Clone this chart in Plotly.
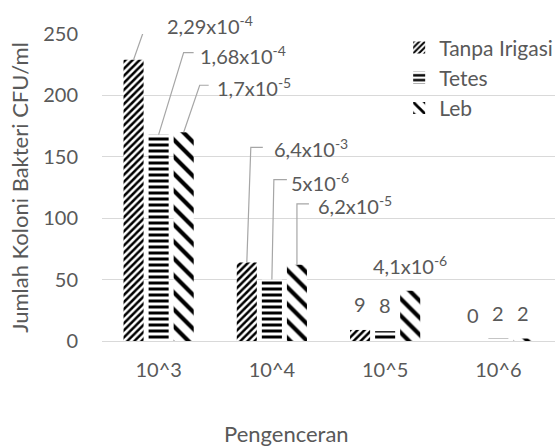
import plotly.graph_objects as go

# ---- data ----
categories = ["10^3", "10^4", "10^5", "10^6"]
series_names = ["Tanpa Irigasi", "Tetes", "Leb"]
tanpa_irigasi = [229, 64, 9, 0]
tetes = [168, 50, 8, 2]
leb = [170, 62, 41, 2]
tanpa_labels = ["2,29x10<sup>-4</sup>", "6,4x10<sup>-3</sup>", "9", "0"]
tetes_labels = ["1,68x10<sup>-4</sup>", "5x10<sup>-6</sup>", "8", "2"]
leb_labels = ["1,7x10<sup>-5</sup>", "6,2x10<sup>-5</sup>", "4,1x10<sup>-6</sup>", "2"]
y_ticks = [0, 50, 100, 150, 200, 250]
x_title = "Pengenceran"
y_title = "Jumlah Koloni Bakteri CFU/ml"

# ---- styling / layout ----
TXT = "#595959"
FONT = "Lato"
FS_TICK = 20
FS_LABEL = 20
FS_TITLE = 22
FS_LEGEND = 21
GRID = "#d9d9d9"
LEADER = "#a6a6a6"
BARGAP = 0.336
GROUPGAP = 0.2

patterns = [
    dict(shape="/", size=5, solidity=0.5, fgcolor="black", bgcolor="white", fillmode="replace"),
    dict(shape="-", size=6, solidity=0.5, fgcolor="black", bgcolor="white", fillmode="replace"),
    dict(shape="\\", size=12, solidity=0.35, fgcolor="black", bgcolor="white", fillmode="replace"),
]

# label placement (pixel offsets from bar top): None -> centered label above bar
# (elbow_dx, elbow_dy, end_dx, label_dx, label_dy)
leaders = [
    [(13, 37, 23, 31, 35), (4, 115, 16, 25, 114), None, None],
    [(25, 82, 35, 39, 80), (2, 100, 15, 17, 98), None, None],
    [(16, 47, 25, 31, 45), (0, 61, 12, 19, 60), None, None],
]

values = [tanpa_irigasi, tetes, leb]
labels = [tanpa_labels, tetes_labels, leb_labels]

fig = go.Figure()
for j, (name, vals) in enumerate(zip(series_names, values)):
    fig.add_trace(go.Bar(
        x=categories, y=vals, name=name,
        marker=dict(color="white", line=dict(width=0), pattern=patterns[j]),
        legendgroup=name,
    ))

slot = (1 - BARGAP) / 3
shapes = []
annotations = []
for j in range(3):
    for i, cat in enumerate(categories):
        xc = i + (j - 1) * slot
        v = values[j][i]
        lead = leaders[j][i]
        if lead is None:
            annotations.append(dict(
                x=xc, y=v, xref="x", yref="y", text=labels[j][i], showarrow=False,
                xanchor="center", yanchor="middle", yshift=26,
                font=dict(family=FONT, size=FS_LABEL, color=TXT)))
        else:
            edx, edy, endx, ldx, ldy = lead
            shapes.append(dict(
                type="path", xref="x", yref="y", xsizemode="pixel", ysizemode="pixel",
                xanchor=xc, yanchor=v,
                path=f"M0,0 L{edx},{edy} L{endx},{edy}",
                line=dict(color=LEADER, width=1.2)))
            annotations.append(dict(
                x=xc, y=v, xref="x", yref="y", text=labels[j][i], showarrow=False,
                xanchor="left", yanchor="middle", xshift=ldx, yshift=ldy,
                font=dict(family=FONT, size=FS_LABEL, color=TXT)))

# x-axis title (centred on the chart rather than the plot area, as in the original)
annotations.append(dict(
    x=0.408, y=-0.302, xref="paper", yref="paper", text=x_title, showarrow=False,
    xanchor="center", yanchor="middle",
    font=dict(family=FONT, size=FS_TITLE, color=TXT)))

fig.update_layout(
    width=557, height=448,
    margin=dict(l=102, r=2, t=34, b=107, autoexpand=False),
    paper_bgcolor="white", plot_bgcolor="white",
    barmode="group", bargap=BARGAP, bargroupgap=GROUPGAP,
    font=dict(family=FONT, size=FS_TICK, color=TXT),
    showlegend=True,
    legend=dict(x=0.656, y=1.022, xanchor="left", yanchor="top",
                bgcolor="rgba(0,0,0,0)", tracegroupgap=0,
                font=dict(family=FONT, size=FS_LEGEND, color=TXT)),
    shapes=shapes,
    annotations=annotations,
)
fig.update_xaxes(
    type="category", showgrid=False, showline=False, zeroline=False,
    ticks="", ticklabelstandoff=15,
    tickfont=dict(family=FONT, size=FS_TICK, color=TXT),
)
fig.update_yaxes(
    range=[0, 250], tickvals=y_ticks, showgrid=True, gridcolor=GRID, gridwidth=1.3,
    zeroline=True, zerolinecolor=GRID, zerolinewidth=1.3, showline=False,
    ticks="", ticklabelstandoff=23,
    tickfont=dict(family=FONT, size=FS_TICK, color=TXT),
    title=dict(text=y_title, font=dict(family=FONT, size=FS_TITLE, color=TXT), standoff=8),
)

fig.write_html("out.html", config={"displayModeBar": False},
               post_script="document.body.style.margin='0px';")
